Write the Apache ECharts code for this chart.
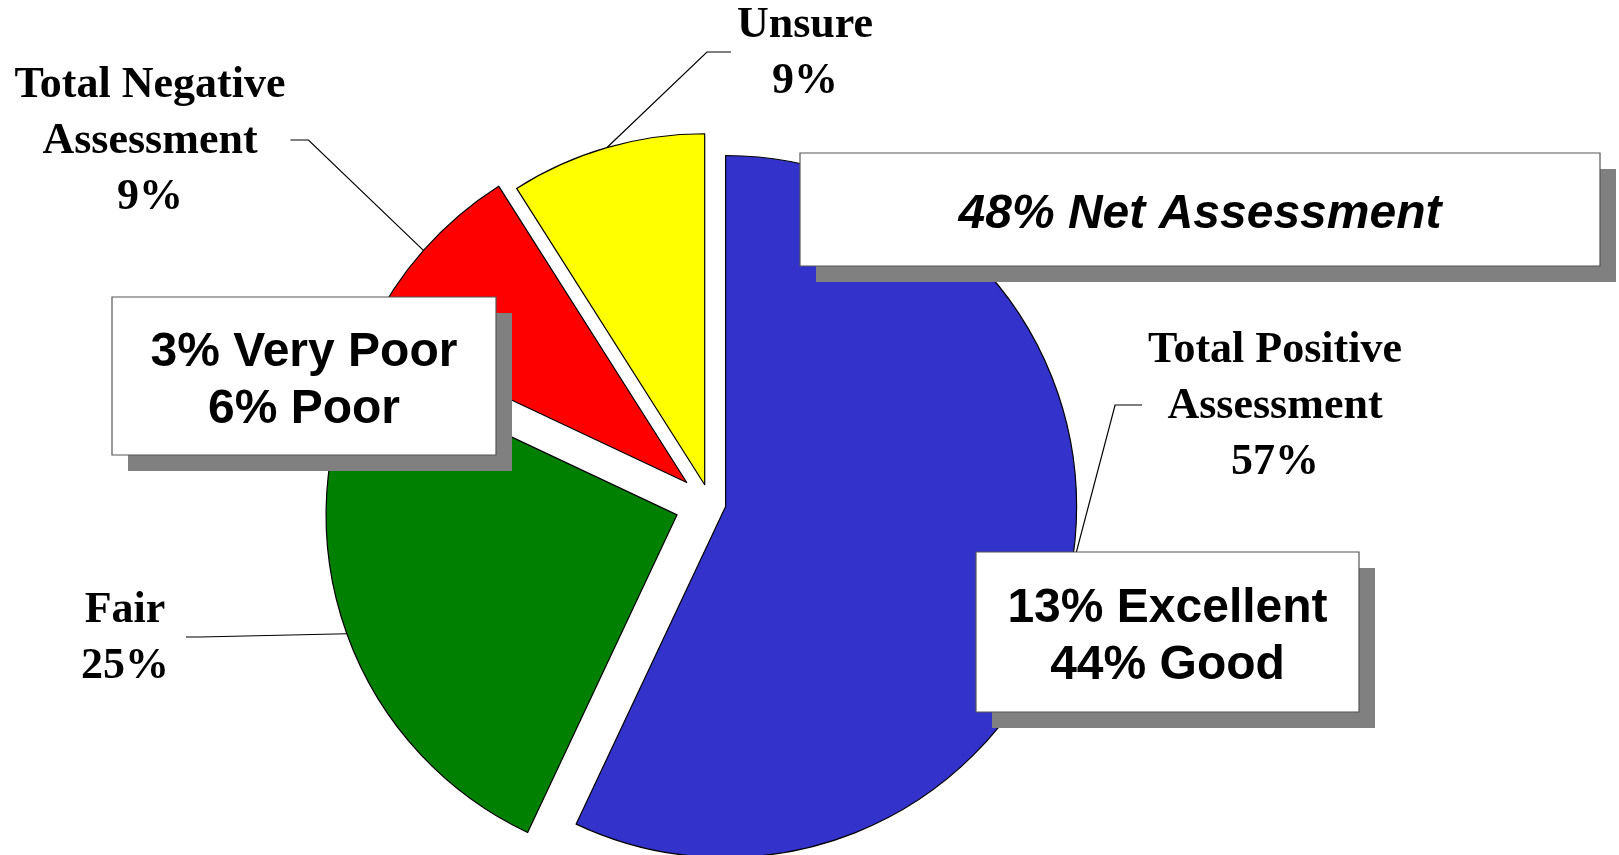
<!DOCTYPE html>
<html>
<head>
<meta charset="utf-8">
<script src="https://cdn.jsdelivr.net/npm/echarts@6/dist/echarts.min.js"></script>
<style>
html, body { margin: 0; padding: 0; background: #fff; }
#main { width: 1619px; height: 855px; }
</style>
</head>
<body>
<div id="main"></div>
<script>
// assessment shares
var categories = ['Total Positive Assessment', 'Fair', 'Total Negative Assessment', 'Unsure'];
var values = [57, 25, 9, 9];
var positiveParts = ['Excellent', 'Good'];
var positiveValues = [13, 44];
var negativeParts = ['Very Poor', 'Poor'];
var negativeValues = [3, 6];
var netValue = 48;

// styles / layout
var colors = ['#3333CC', '#008000', '#FF0000', '#FFFF00'];
var pieCenter = [710, 503];
var pieRadius = 351;
var explode = [16, 35, 31, 19];               // offset of each slice from the centre
var labelPos = [[1275, 407], [125, 639], [150, 142], [805, 54]];
var lineSide = [-1, 1, 1, -1];                 // leader line enters label from left(-1) / right(1)
var lineGap = [6, 17, 5, 6];
var elbow = [27, 14, 18, 24];

var myChart = echarts.init(document.getElementById('main'));

var total = values.reduce(function (a, b) { return a + b; }, 0);

// 每个扇区单独一个系列,以便分别偏移
var series = [];
var cum = 0;
for (var i = 0; i < values.length; i++) {
	var mid = (cum + values[i] / 2) / total * Math.PI * 2;
	cum += values[i];
	var cx = pieCenter[0] + explode[i] * Math.sin(mid);
	var cy = pieCenter[1] - explode[i] * Math.cos(mid);
	series.push({
		type: 'pie',
		center: [cx, cy],
		radius: pieRadius,
		startAngle: 90,
		clockwise: true,
		avoidLabelOverlap: false,
		silent: true,
		emphasis: { disabled: true },
		label: {
			show: true,
			position: 'outside',
			color: '#000',
			fontFamily: '"Liberation Serif", "Times New Roman", serif',
			fontWeight: 'bold',
			fontSize: 44,
			lineHeight: 56,
			align: 'center',
			formatter: function (p) {
				return p.name.replace(' Assessment', '\nAssessment') + '\n' + p.value + '%';
			}
		},
		labelLine: {
			show: true,
			lineStyle: { color: '#000', width: 1.2 }
		},
		labelLayout: function (p) {
			var k = p.dataIndex;
			var pos = labelPos[k];
			var side = lineSide[k];
			var ex = pos[0] + side * (p.labelRect.width / 2 + lineGap[k]);
			var ey = pos[1] - 2;
			var start = p.labelLinePoints ? p.labelLinePoints[0] : [ex, ey];
			return {
				x: pos[0],
				y: pos[1],
				align: 'center',
				verticalAlign: 'middle',
				labelLinePoints: [start, [ex + side * elbow[k], ey], [ex, ey]]
			};
		},
		data: categories.map(function (name, j) {
			var on = (j === i);
			return {
				name: name,
				value: values[j],
				itemStyle: on ? { color: colors[j], borderColor: '#000', borderWidth: 1.2 }
					: { color: 'rgba(0,0,0,0)', borderWidth: 0 },
				label: { show: on },
				labelLine: { show: on }
			};
		})
	});
}

// 带阴影的文字框
var makeBox = function (x, y, w, h, text, italic) {
	return {
		type: 'group',
		children: [{
			type: 'rect',
			z: 100,
			shape: { x: x + 16, y: y + 16, width: w, height: h },
			style: { fill: '#808080' }
		}, {
			type: 'rect',
			z: 101,
			shape: { x: x, y: y, width: w, height: h },
			style: { fill: '#fff', stroke: '#555', lineWidth: 1.2 }
		}, {
			type: 'text',
			z: 102,
			style: {
				x: x + w / 2,
				y: y + h / 2 + 5,
				text: text,
				align: 'center',
				verticalAlign: 'middle',
				fontFamily: '"Liberation Sans", Arial, sans-serif',
				fontWeight: 'bold',
				fontStyle: italic ? 'italic' : 'normal',
				fontSize: 48,
				lineHeight: 57,
				fill: '#000'
			}
		}]
	};
};

var partsText = function (names, vals) {
	return names.map(function (n, j) { return vals[j] + '% ' + n; }).join('\n');
};

option = {
	backgroundColor: '#fff',
	animation: false,
	series: series,
	graphic: [
		makeBox(800, 153, 800, 113, netValue + '% Net Assessment', true),
		makeBox(112, 297, 384, 158, partsText(negativeParts, negativeValues), false),
		makeBox(976, 552, 383, 160, partsText(positiveParts, positiveValues), false)
	]
};
myChart.setOption(option);
</script>
</body>
</html>
